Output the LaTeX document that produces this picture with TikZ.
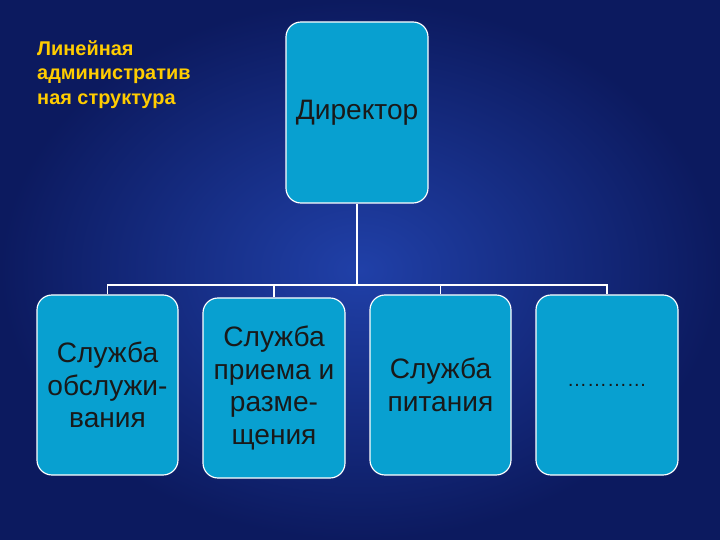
\documentclass[tikz,border=0pt]{standalone}
\usepackage{fontspec}
\setmainfont{Liberation Sans}
\begin{document}
\begin{tikzpicture}[x=0.03cm,y=-0.03cm,
  box/.style={draw=white,line width=1pt,fill=boxc,rounded corners=0.45cm,inner sep=0pt,
    font=\fontsize{24}{28}\selectfont,text=black!90,align=center},
  conn/.style={draw=white,line width=1pt}]
\definecolor{boxc}{RGB}{8,160,208}
\definecolor{bgin}{RGB}{32,64,168}
\definecolor{bgout}{RGB}{12,26,95}
\definecolor{ytext}{RGB}{255,204,0}
\shade[inner color=bgin,outer color=bgout] (0,0) rectangle (720,540);
\useasboundingbox (0,0) rectangle (720,540);
\node[anchor=north west,align=left,text=ytext,font=\bfseries\fontsize{17}{21}\selectfont,inner sep=0pt] (title) at (37,40)
  {Линейная\\административ\\ная структура};
\node[box,minimum width=142*0.03cm,minimum height=181*0.03cm] (dir) at (357,112.5) {\raisebox{-4pt}{Директор}};
\node[box,minimum width=141*0.03cm,minimum height=180*0.03cm] (b1) at (107.5,385) {Служба\\обслужи-\\вания};
\node[box,minimum width=142*0.03cm,minimum height=180*0.03cm] (b2) at (274,388) {Служба\\приема и\\разме-\\щения};
\node[box,minimum width=141*0.03cm,minimum height=180*0.03cm] (b3) at (440.5,385) {Служба\\питания};
\node[box,minimum width=142*0.03cm,minimum height=180*0.03cm,font=\fontsize{17}{20}\selectfont] (b4) at (607,385) {\dots\dots\dots\dots};
\coordinate (j) at (357,285);
\draw[conn] (dir.south) -- (j);
\draw[conn] (b1.north) -- (b1.north |- j) -- (b4.north |- j) -- (b4.north);
\draw[conn] (b2.north) -- (b2.north |- j);
\draw[conn] (b3.north) -- (b3.north |- j);
\end{tikzpicture}
\end{document}
